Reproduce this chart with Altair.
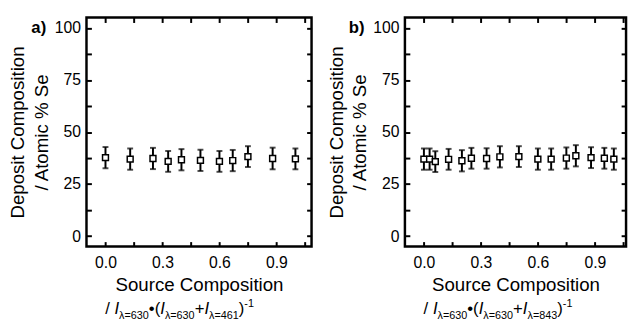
import altair as alt
import pandas as pd

# ---------------- data ----------------
src_a = [0.00, 0.13, 0.25, 0.33, 0.40, 0.50, 0.60, 0.67, 0.75, 0.88, 1.00]
se_a = [37.7, 37.0, 37.3, 35.9, 36.7, 36.4, 35.9, 36.3, 38.2, 37.3, 37.1]
err_a = [5.1, 5.1, 5.1, 5.0, 5.1, 5.1, 5.0, 5.1, 5.0, 5.2, 5.0]

src_b = [0.00, 0.03, 0.06, 0.13, 0.20, 0.25, 0.33, 0.40, 0.50, 0.60, 0.67,
         0.75, 0.80, 0.88, 0.95, 1.00]
se_b = [37.0, 37.0, 35.8, 36.9, 36.2, 37.4, 37.3, 38.1, 38.2, 37.0, 37.0,
        37.5, 38.6, 37.7, 37.4, 37.0]
err_b = [5.1, 5.1, 5.0, 5.0, 5.1, 5.0, 4.9, 5.1, 5.0, 5.1, 5.1,
         5.1, 5.1, 5.0, 5.0, 5.1]

x_ticks = [0, 0.15, 0.3, 0.45, 0.6, 0.75, 0.9, 1.05]
y_ticks = [0, 12.5, 25, 37.5, 50, 62.5, 75, 87.5, 100]
panel_tags = ["a)", "b)"]
second_wavelength = ["461", "843"]
x_title = "Source Composition"
y_title = ["Deposit Composition", "/ Atomic % Se"]

# ---------------- layout / style ----------------
FONT = "Liberation Sans"
H = 233
WIDTHS = [229, 225]
X_LO = -0.1
PX_PER_UNIT = 229 / 1.185
Y_DOM = [-5, 105]
MAIN_FS, SUB_FS = 17, 11
FORMULA_START = 19          # px from plot left
BASE_MAIN, BASE_SUB, BASE_SUP = 302, 307, 295

# advance widths (em) for Liberation Sans
ADV = {"/": 0.278, " ": 0.278, "I": 0.278, "λ": 0.5, "=": 0.584, "•": 0.35,
       "(": 0.333, ")": 0.333, "+": 0.584, "-": 0.333}
for d in "0123456789":
    ADV[d] = 0.556


def formula_pieces(wl):
    return [("/ ", "main"), ("I", "ital"), ("λ=630", "sub"), ("•(", "main"),
            ("I", "ital"), ("λ=630", "sub"), ("+", "main"), ("I", "ital"),
            ("λ=" + wl, "sub"), (")", "main"), ("-1", "sup")]


def formula_frame(wl):
    rows, pos = [], FORMULA_START
    for txt, kind in formula_pieces(wl):
        fs = MAIN_FS if kind in ("main", "ital") else SUB_FS
        rows.append({"t": txt, "kind": kind,
                     "px": X_LO + pos / PX_PER_UNIT})
        pos += sum(ADV.get(c, 0.55) for c in txt) * fs
    return pd.DataFrame(rows)


def panel(xs, ys, es, tag, wl, width):
    df = pd.DataFrame({"x": xs, "y": ys,
                       "lo": [y - e for y, e in zip(ys, es)],
                       "hi": [y + e for y, e in zip(ys, es)]})
    xsc = alt.Scale(domain=[X_LO, X_LO + width / PX_PER_UNIT], nice=False, zero=False)
    ysc = alt.Scale(domain=Y_DOM, nice=False, zero=False)

    common = dict(offset=-5, tickSize=5, tickWidth=2, tickColor="black",
                  domain=False, grid=False)
    x_bottom = alt.Axis(orient="bottom", values=x_ticks,
                        labelExpr="abs(datum.value*10/3 - round(datum.value*10/3)) < 0.01 ? format(datum.value, '.1f') : ''",
                        labelFont=FONT, labelFontSize=16, labelColor="black",
                        labelPadding=8, labelFlush=False, labelOverlap=False,
                        title=x_title, titleFont=FONT, titleFontSize=19,
                        titleFontWeight="normal", titleColor="black",
                        titlePadding=6, **common)
    y_left = alt.Axis(orient="left", values=y_ticks,
                      labelExpr="datum.value % 25 == 0 ? format(datum.value, 'd') : ''",
                      labelFont=FONT, labelFontSize=16, labelColor="black",
                      labelPadding=6, labelFlush=False, labelOverlap=False,
                      title=y_title, titleFont=FONT, titleFontSize=19,
                      titleFontWeight="normal", titleColor="black",
                      titlePadding=3, titleLineHeight=24, **common)
    x_top = alt.Axis(orient="top", values=x_ticks, labels=False, title=None, **common)
    y_right = alt.Axis(orient="right", values=y_ticks, labels=False, title=None, **common)

    base = alt.Chart(df)
    bars = base.mark_rule(strokeWidth=2, color="black").encode(
        x=alt.X("x:Q", scale=xsc, axis=x_bottom),
        y=alt.Y("lo:Q", scale=ysc, axis=y_left),
        y2="hi:Q")
    frame_axes = base.mark_point(opacity=0).encode(
        x=alt.X("x:Q", scale=xsc, axis=x_top),
        y=alt.Y("y:Q", scale=ysc, axis=y_right))
    cap_hi = base.mark_tick(orient="horizontal", size=6, thickness=2, color="black").encode(
        x=alt.X("x:Q", scale=xsc, axis=None), y=alt.Y("hi:Q", scale=ysc, axis=None))
    cap_lo = base.mark_tick(orient="horizontal", size=6, thickness=2, color="black").encode(
        x=alt.X("x:Q", scale=xsc, axis=None), y=alt.Y("lo:Q", scale=ysc, axis=None))
    pts = base.mark_point(shape="square", filled=True, fill="white", stroke="black",
                          strokeWidth=1.5, size=36, opacity=1).encode(
        x=alt.X("x:Q", scale=xsc, axis=None), y=alt.Y("y:Q", scale=ysc, axis=None))

    tag_layer = alt.Chart(pd.DataFrame({"t": [tag]})).mark_text(
        align="right", baseline="alphabetic", font=FONT, fontSize=17,
        fontWeight="bold", color="black").encode(
        text="t:N", x=alt.value(-41), y=alt.value(16))

    fdf = formula_frame(wl)
    fbase = alt.Chart(fdf)
    layers = []
    for kind, fs, style, yb in [("main", MAIN_FS, "normal", BASE_MAIN),
                                ("ital", MAIN_FS, "italic", BASE_MAIN),
                                ("sub", SUB_FS, "normal", BASE_SUB),
                                ("sup", SUB_FS, "normal", BASE_SUP)]:
        layers.append(fbase.transform_filter(alt.datum.kind == kind).mark_text(
            align="left", baseline="alphabetic", font=FONT, fontSize=fs,
            fontStyle=style, color="black").encode(
            text="t:N", x=alt.X("px:Q", scale=xsc, axis=None), y=alt.value(yb)))

    return alt.layer(bars, frame_axes, cap_hi, cap_lo, pts, tag_layer, *layers).resolve_axis(
        x="independent", y="independent").properties(width=width, height=H)


left = panel(src_a, se_a, err_a, panel_tags[0], second_wavelength[0], WIDTHS[0])
right = panel(src_b, se_b, err_b, panel_tags[1], second_wavelength[1], WIDTHS[1])

chart = alt.hconcat(left, right, spacing=12).properties(
    padding={"top": 12, "bottom": 0, "left": 8, "right": 0},
    background="white",
).configure_view(stroke="black", strokeWidth=2.5)

chart.save("out.html", embed_options={"renderer": "svg", "actions": False})
